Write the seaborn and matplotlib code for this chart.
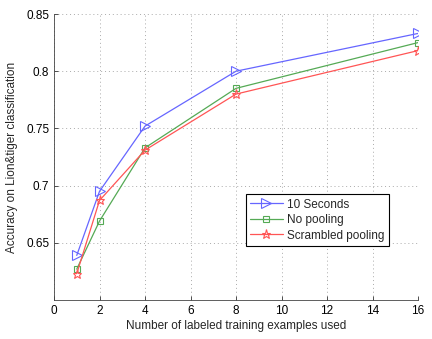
import pandas as pd
import matplotlib
matplotlib.use("Agg")
import matplotlib.pyplot as plt
import seaborn as sns

# Values
n_examples = [1, 2, 4, 8, 16]
acc_10sec = [0.639, 0.695, 0.752, 0.800, 0.833]
acc_nopool = [0.627, 0.669, 0.733, 0.785, 0.825]
acc_scrambled = [0.623, 0.687, 0.731, 0.780, 0.818]
series_names = ["10 Seconds", "No pooling", "Scrambled pooling"]
x_ticks = [0, 2, 4, 6, 8, 10, 12, 14, 16]
y_ticks = [0.65, 0.7, 0.75, 0.8, 0.85]
y_tick_labels = ["0.65", "0.7", "0.75", "0.8", "0.85"]

sns.set_style("ticks")
plt.rcParams["font.family"] = ["Liberation Sans", "DejaVu Sans"]

fig = plt.figure(figsize=(4.32, 3.39), dpi=100)
ax = fig.add_axes([0.125, 0.115, 0.8426, 0.8437])

styles = [("#6666ff", ">", 6.5), ("#55aa55", "s", 5), ("#ff5555", "*", 6.5)]
for name, vals, (col, mk, ms) in zip(series_names, [acc_10sec, acc_nopool, acc_scrambled], styles):
    df = pd.DataFrame({"n": n_examples, "acc": vals})
    sns.lineplot(data=df, x="n", y="acc", ax=ax, color=col, marker=mk, markersize=ms,
                 markerfacecolor="none", markeredgecolor=col, markeredgewidth=0.8,
                 linewidth=0.9, label=name)

ax.set_xlim(0, 16)
ax.set_ylim(0.6, 0.85)
ax.set_xticks(x_ticks)
ax.set_yticks(y_ticks)
ax.set_yticklabels(y_tick_labels)
ax.tick_params(direction="in", length=3, labelsize=8.5, width=0.6, colors="#333333", labelcolor="black")
ax.grid(True, linestyle=(0, (1, 3)), color="#aaaaaa", linewidth=0.7)
for s in ["top", "right"]:
    ax.spines[s].set_visible(False)
for s in ["left", "bottom"]:
    ax.spines[s].set_linewidth(0.6)
    ax.spines[s].set_color("#444444")

ax.set_xlabel("Number of labeled training examples used", fontsize=8.5, labelpad=2)
ax.set_ylabel("Accuracy on Lion&tiger classification", fontsize=8.5, labelpad=6)

leg = ax.legend(loc="upper left", bbox_to_anchor=(0.51, 0.39), fontsize=8.5,
                frameon=True, fancybox=False, edgecolor="black", framealpha=1,
                borderpad=0.35, labelspacing=0.3, handlelength=2.8, handletextpad=0.4)
leg.get_frame().set_linewidth(0.8)

fig.savefig("out.png", dpi=100)
